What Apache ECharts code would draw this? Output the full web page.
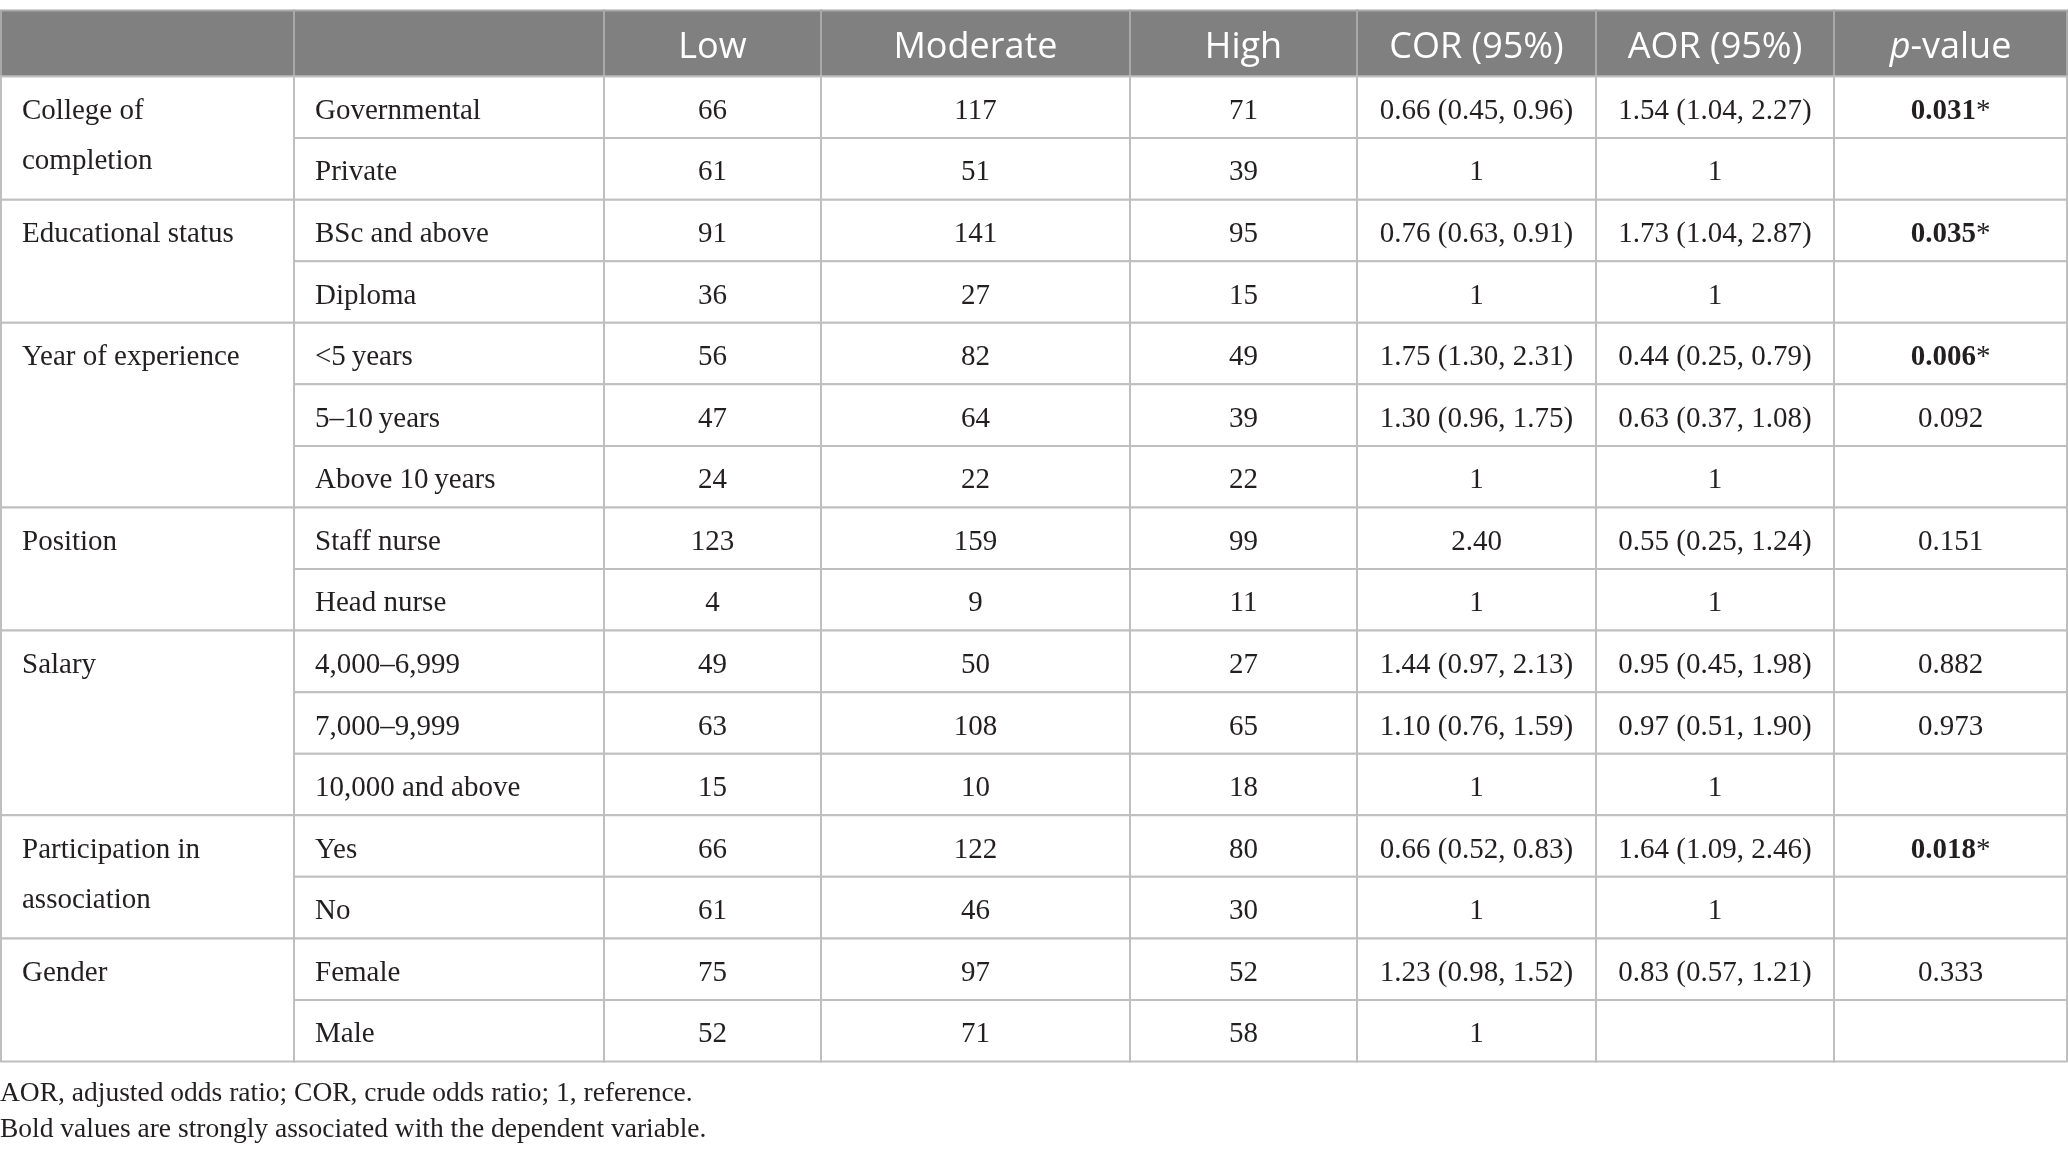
<!DOCTYPE html>
<html>
<head>
<meta charset="utf-8">
<script src="https://cdn.jsdelivr.net/npm/echarts@6/dist/echarts.min.js"></script>
<style>
  html, body { margin: 0; padding: 0; background: #fff; }
  #chart { width: 2068px; height: 1155px; }
</style>
</head>
<body>
<div id="chart"></div>
<script>
// table content
const headers = ['', '', 'Low', 'Moderate', 'High', 'COR (95%)', 'AOR (95%)', 'p-value'];
const groups = ['College of\ncompletion', 'Educational status', 'Year of experience', 'Position', 'Salary', 'Participation in\nassociation', 'Gender'];
const groupSizes = [2, 2, 3, 2, 3, 2, 2];
const levels = ['Governmental', 'Private', 'BSc and above', 'Diploma', '<5\u2009years', '5\u201310\u2009years', 'Above 10\u2009years',
  'Staff nurse', 'Head nurse', '4,000\u20136,999', '7,000\u20139,999', '10,000 and above', 'Yes', 'No', 'Female', 'Male'];
const low = [66, 61, 91, 36, 56, 47, 24, 123, 4, 49, 63, 15, 66, 61, 75, 52];
const moderate = [117, 51, 141, 27, 82, 64, 22, 159, 9, 50, 108, 10, 122, 46, 97, 71];
const high = [71, 39, 95, 15, 49, 39, 22, 99, 11, 27, 65, 18, 80, 30, 52, 58];
const cor = ['0.66 (0.45, 0.96)', '1', '0.76 (0.63, 0.91)', '1', '1.75 (1.30, 2.31)', '1.30 (0.96, 1.75)', '1',
  '2.40', '1', '1.44 (0.97, 2.13)', '1.10 (0.76, 1.59)', '1', '0.66 (0.52, 0.83)', '1', '1.23 (0.98, 1.52)', '1'];
const aor = ['1.54 (1.04, 2.27)', '1', '1.73 (1.04, 2.87)', '1', '0.44 (0.25, 0.79)', '0.63 (0.37, 1.08)', '1',
  '0.55 (0.25, 1.24)', '1', '0.95 (0.45, 1.98)', '0.97 (0.51, 1.90)', '1', '1.64 (1.09, 2.46)', '1', '0.83 (0.57, 1.21)', ''];
const pValues = ['0.031', '', '0.035', '', '0.006', '0.092', '', '0.151', '', '0.882', '0.973', '', '0.018', '', '0.333', ''];
const significant = [true, false, true, false, true, false, false, false, false, false, false, false, true, false, false, false];
const footnotes = ['AOR, adjusted odds ratio; COR, crude odds ratio; 1, reference.',
  'Bold values are strongly associated with the dependent variable.'];

// layout (column boundaries in px along the hidden x axis)
const colEdges = [0, 293, 603, 820, 1129, 1356, 1595, 1833, 2066];
const tableWidth = colEdges[colEdges.length - 1];
const serif = '"Liberation Serif", "DejaVu Serif", serif';
const sans = '"Open Sans", "Noto Sans", sans-serif';
const bodyColor = '#231f20';

// body cells: [row, col, span] plus the text to print
const bodyCells = [];
const bodyTexts = [];
let r0 = 0;
groups.forEach((g, i) => {
  bodyCells.push([r0, 0, groupSizes[i]]);
  bodyTexts.push({ text: g });
  r0 += groupSizes[i];
});
levels.forEach((lv, r) => {
  const cols = [lv, String(low[r]), String(moderate[r]), String(high[r]), cor[r], aor[r]];
  cols.forEach((t, k) => {
    bodyCells.push([r, k + 1, 1]);
    bodyTexts.push({ text: t });
  });
  bodyCells.push([r, 7, 1]);
  bodyTexts.push(significant[r] && pValues[r]
    ? { text: '{b|' + pValues[r] + '}{n|*}', rich: {
        b: { fontWeight: 'bold', fontSize: 29, fontFamily: serif, fill: bodyColor },
        n: { fontWeight: 'normal', fontSize: 29, fontFamily: serif, fill: bodyColor } } }
    : { text: pValues[r] });
});

const headerCells = headers.map((h, c) => [0, c, 1]);

function cellRect(api, row, col, span) {
  const x0 = api.coord([colEdges[col], row])[0];
  const x1 = api.coord([colEdges[col + 1], row])[0];
  const cy = api.coord([0, row])[1];
  const bandH = api.size([0, 1])[1];
  return { x: x0, y: cy - bandH / 2, width: x1 - x0, height: bandH * span, bandH: bandH };
}

function renderBody(params, api) {
  const row = api.value(0), col = api.value(1), span = api.value(2);
  const rc = cellRect(api, row, col, span);
  const info = bodyTexts[params.dataIndex];
  const leftAligned = col < 2;
  const textStyle = {
    text: info.text,
    x: leftAligned ? rc.x + 21 : rc.x + rc.width / 2,
    y: col === 0 ? rc.y + rc.bandH / 2 - 25 + 4 : rc.y + rc.bandH / 2 + 4,
    align: leftAligned ? 'left' : 'center',
    verticalAlign: col === 0 ? 'top' : 'middle',
    lineHeight: 50,
    font: '29px ' + serif,
    fill: bodyColor
  };
  if (info.rich) textStyle.rich = info.rich;
  return {
    type: 'group',
    children: [
      { type: 'rect', shape: { x: rc.x, y: rc.y, width: rc.width, height: rc.height },
        style: { fill: '#fff', stroke: '#bfbfbf', lineWidth: 2 } },
      { type: 'text', style: textStyle }
    ]
  };
}

function renderHeader(params, api) {
  const col = api.value(1);
  const rc = cellRect(api, 0, col, 1);
  const label = headers[col];
  const isP = label === 'p-value';
  return {
    type: 'group',
    children: [
      { type: 'rect', shape: { x: rc.x, y: rc.y, width: rc.width, height: rc.height },
        style: { fill: '#808080', stroke: '#a9a9a9', lineWidth: 2 } },
      { type: 'text', style: {
          text: isP ? '{i|p}{r|-value}' : label,
          x: rc.x + rc.width / 2,
          y: rc.y + rc.height / 2 + 4,
          align: 'center',
          verticalAlign: 'middle',
          font: '36px ' + sans,
          fill: '#fff',
          rich: {
            i: { fontStyle: 'italic', fontSize: 36, fontFamily: sans, fill: '#fff' },
            r: { fontSize: 36, fontFamily: sans, fill: '#fff' }
          }
        } }
    ]
  };
}

const chart = echarts.init(document.getElementById('chart'));
const hiddenAxis = { show: false };
chart.setOption({
  animation: false,
  title: {
    text: footnotes.join('\n'),
    left: 0,
    top: 1076,
    padding: 0,
    textStyle: { fontFamily: serif, fontSize: 27.5, fontWeight: 'normal', color: bodyColor, lineHeight: 36 }
  },
  grid: [
    { left: 1, top: 10.5, width: tableWidth, height: 66 },
    { left: 1, top: 76.5, width: tableWidth, height: 985 }
  ],
  xAxis: [
    Object.assign({ type: 'value', min: 0, max: tableWidth, gridIndex: 0 }, hiddenAxis),
    Object.assign({ type: 'value', min: 0, max: tableWidth, gridIndex: 1 }, hiddenAxis)
  ],
  yAxis: [
    Object.assign({ type: 'category', data: ['header'], gridIndex: 0, inverse: true }, hiddenAxis),
    Object.assign({ type: 'category', data: levels, gridIndex: 1, inverse: true }, hiddenAxis)
  ],
  series: [
    { type: 'custom', xAxisIndex: 0, yAxisIndex: 0, clip: false, silent: true,
      encode: { x: -1, y: 0 }, renderItem: renderHeader, data: headerCells },
    { type: 'custom', xAxisIndex: 1, yAxisIndex: 1, clip: false, silent: true,
      encode: { x: -1, y: 0 }, renderItem: renderBody, data: bodyCells }
  ]
});
</script>
</body>
</html>
